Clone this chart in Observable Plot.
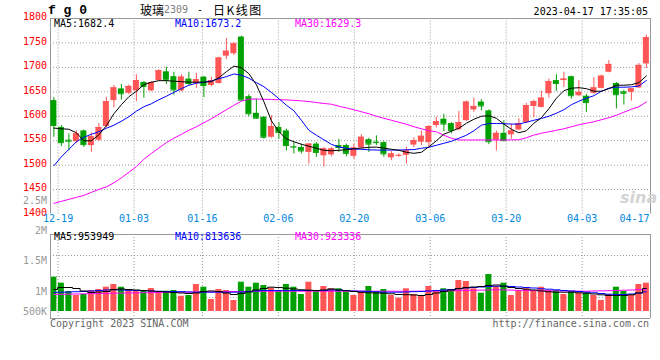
<!DOCTYPE html>
<html><head><meta charset="utf-8">
<script src="https://cdn.jsdelivr.net/npm/d3@7"></script>
<script src="https://cdn.jsdelivr.net/npm/@observablehq/plot@0.6"></script>
<style>
html,body{margin:0;padding:0;background:#fff;}
#chart{position:relative;width:660px;height:360px;overflow:hidden;background:#fff;}
#chart svg{position:absolute;left:0;top:0;}
.lbl{position:absolute;white-space:nowrap;font-family:"DejaVu Sans Mono",monospace;font-size:10px;line-height:10px;}
</style></head>
<body><div id="chart"></div>
<script>
// ---------- data ----------
const dates = ["12-16","12-19","12-20","12-21","12-22","12-23","12-26","12-27","12-28","12-29","12-30",
"01-03","01-04","01-05","01-06","01-09","01-10","01-11","01-12","01-13",
"01-16","01-17","01-18","01-19","01-20","01-30","01-31","02-01","02-02","02-03",
"02-06","02-07","02-08","02-09","02-10","02-13","02-14","02-15","02-16","02-17",
"02-20","02-21","02-22","02-23","02-24","02-27","02-28","03-01","03-02","03-03",
"03-06","03-07","03-08","03-09","03-10","03-13","03-14","03-15","03-16","03-17",
"03-20","03-21","03-22","03-23","03-24","03-27","03-28","03-29","03-30","03-31",
"04-03","04-04","04-06","04-07","04-10","04-11","04-12","04-13","04-14","04-17"];
const openP = [1632,1577,1551,1548,1570,1540,1551,1579,1632,1656, 1647,1652,1669,1652,1673,1691,1681,1652,1676,1667,
 1680,1663,1667,1723,1728,1762,1640,1606,1598,1557, 1577,1570,1538,1536,1526,1543,1519,1521,1540,1540,
 1518,1535,1552,1547,1546,1515,1519,1520,1541,1547, 1546,1581,1594,1585,1573,1591,1613,1629,1611,1551,
 1565,1562,1572,1587,1620,1618,1646,1673,1673,1681, 1642,1641,1647,1657,1690,1667,1650,1649,1658,1707];
const highP = [1638,1581,1564,1570,1572,1566,1585,1639,1663,1665, 1664,1685,1671,1671,1695,1700,1690,1685,1690,1688,
 1681,1680,1721,1759,1751,1764,1644,1635,1599,1601, 1587,1574,1546,1543,1544,1546,1536,1536,1553,1543,
 1543,1562,1555,1560,1548,1528,1523,1537,1556,1570, 1581,1598,1604,1587,1610,1631,1637,1634,1613,1570,
 1591,1584,1595,1626,1633,1651,1676,1685,1690,1682, 1673,1645,1679,1684,1714,1669,1653,1657,1708,1766];
const lowP = [1557,1538,1529,1544,1536,1526,1548,1576,1617,1633, 1644,1630,1637,1650,1672,1665,1643,1650,1662,1657,
 1638,1660,1666,1716,1724,1631,1599,1594,1553,1555, 1553,1529,1523,1523,1502,1516,1496,1517,1526,1517,
 1512,1533,1526,1540,1516,1509,1516,1502,1536,1540, 1537,1576,1568,1564,1570,1589,1608,1611,1542,1529,
 1548,1553,1570,1585,1597,1617,1637,1651,1659,1635, 1640,1608,1645,1656,1689,1615,1623,1631,1657,1698];
const closeP = [1581,1546,1549,1564,1542,1558,1577,1630,1658,1646, 1661,1673,1661,1669,1693,1674,1654,1680,1667,1675,
 1663,1673,1719,1733,1748,1633,1605,1596,1557,1579, 1567,1540,1537,1529,1543,1526,1533,1533,1536,1524,
 1535,1557,1543,1546,1523,1523,1520,1529,1550,1559, 1579,1589,1584,1571,1587,1629,1620,1621,1548,1565,
 1550,1570,1585,1622,1630,1637,1671,1667,1676,1642, 1649,1628,1658,1682,1706,1644,1647,1656,1704,1761];
const ma5 = [1575.8,1574.4,1573.4,1566.2,1549.8,1549.8,1562.1,1580.6,1605.1,1623.6, 1640.0,1651.2,1664.6,1669.7,1672.8,1672.8,1671.7,1670.7,1669.7,1669.7,
 1669.7,1670.7,1678.9,1691.2,1702.5,1699.4,1687.1,1664.6,1629.7,1590.8, 1568.3,1553.9,1547.8,1542.7,1538.6,1534.5,1530.4,1529.3,1530.4,1531.4,
 1533.4,1534.9,1536.5,1536.9,1534.9,1532.4,1530.4,1526.3,1524.2,1526.3, 1537.5,1549.8,1563.5,1569.3,1575.4,1585.7,1593.9,1600.0,1601.0,1595.9,
 1584.0,1573.4,1566.2,1570.3,1585.7,1597.0,1615.4,1636.9,1652.3,1657.4, 1658.4,1656.4,1651.2,1651.2,1656.4,1663.5,1663.5,1664.6,1668.7,1682.4];
const ma10 = [1498.6,1517.0,1532.4,1547.8,1557.0,1563.1,1568.3,1575.4,1581.6,1589.8, 1599.0,1610.3,1619.5,1625.6,1633.8,1641.0,1648.8,1656.4,1663.5,1667.6,
 1669.7,1672.2,1676.9,1681.0,1686.5,1684.0,1677.9,1668.7,1660.5,1648.8, 1635.9,1622.6,1611.3,1591.8,1571.3,1561.1,1551.9,1542.6,1537.1,1534.5,
 1533.0,1532.4,1531.4,1530.8,1530.8,1530.8,1530.8,1531.4,1531.8,1534.5, 1536.5,1540.6,1544.7,1548.8,1555.0,1561.1,1570.3,1581.6,1585.1,1585.1,
 1584.7,1584.0,1584.0,1587.7,1591.8,1595.5,1600.0,1606.2,1613.3,1623.6, 1630.8,1636.9,1642.0,1651.2,1657.4,1659.4,1659.4,1660.1,1661.9,1673.2];
const ma30 = [1421.8,1425.9,1430.0,1434.0,1438.1,1444.3,1450.4,1455.6,1463.8,1474.0, 1485.3,1497.0,1512.0,1524.0,1535.0,1546.0,1555.0,1563.0,1571.3,1578.5,
 1586.7,1594.9,1604.1,1613.3,1622.5,1630.8,1634.9,1635.3,1634.9,1634.2, 1633.8,1633.4,1632.6,1631.4,1630.1,1628.1,1626.2,1624.6,1620.5,1617.0,
 1613.3,1609.2,1605.1,1600.0,1595.9,1591.8,1587.7,1583.6,1578.5,1574.4, 1570.3,1568.3,1561.1,1555.0,1551.5,1551.5,1551.5,1551.5,1551.5,1551.5,
 1551.5,1551.7,1551.9,1556.0,1561.5,1565.2,1568.3,1571.3,1574.4,1578.5, 1582.6,1585.7,1588.8,1592.9,1597.0,1602.1,1608.2,1614.4,1619.5,1629.3];
// volume in thousand lots
const volumeK = [1420,1172,828,662,704,869,911,1006,1118,1006, 911,840,869,952,828,840,869,633,662,1118,
 1006,497,911,869,455,1213,1006,1172,1076,965, 869,1118,1006,704,1213,869,1035,940,940,799,
 662,799,1035,799,911,662,551,940,704,662, 1035,869,940,911,1283,1242,940,758,1532,1035,
 1172,662,869,940,869,1006,869,869,704,828, 758,758,662,455,704,1006,828,662,1118,1172];
const volMa5K = [910.8,993.6,993.6,952.2,848.7,786.6,807.3,828,910.8,931.5, 910.8,890.1,869.4,848.7,828,807.3,786.6,765.9,745.2,765.9,
 828,848.7,828,765.9,703.8,745.2,807.3,890.1,952.2,1006, 993.6,964.6,931.5,898.4,881.8,869.4,890.1,931.5,890.1,857,
 828,794.9,774.2,765.9,757.6,732.8,703.8,695.5,683.1,662.4, 703.8,765.9,828,890.1,952.2,993.6,1014.3,1035,1076.4,1097.1,
 1047.4,993.6,952.2,923.2,890.1,848.7,815.6,799,799,799, 774.2,757.6,724.5,691.4,662.4,662.4,662.4,691.4,765.9,953.9];
const volMa10K = [786.6,799,807.3,819.7,828,848.7,869.4,890.1,898.4,890.1, 877.7,869.4,861.1,848.7,836.3,828,828,819.7,807.3,799,
 799,799,799,799,799,807.3,828,848.7,869.4,869.4, 869.4,869.4,869.4,869.4,869.4,869.4,869.4,890.1,890.1,869.4,
 848.7,840.4,828,815.6,799,799,799,807.3,819.7,828, 848.7,869.4,890.1,910.8,939.8,972.9,993.6,1014.3,1035,1047.4,
 1047.4,1035,1014.3,993.6,972.9,939.8,923.2,898.4,869.4,848.7, 828,799,774.2,745.2,716.2,703.8,703.8,724.5,765.9,813.6];
const volMa30K = [703.8,710,717,724.5,731,738,745.2,751,757.6,763, 768,774.2,778,782,786.6,790,795,799,803,808,
 812,815.6,820,824,828,830,832,834,836,838, 840.4,840.4,840.4,840.4,840.4,840.4,840.4,840.4,840.4,840.4,
 840.4,840.4,840.4,840.4,840.4,840.4,838,836,840,843, 846,848.7,852,858,864,869.4,877,885,892,898.4,
 892,885,877,869.4,865,860,856,852,848.7,846, 843,840.4,848.7,855,862,869.4,880,890,905,923.3];
const xTickLabels = ["12-19","01-03","01-16","02-06","02-20","03-06","03-20","04-03","04-17"];
const priceTicks = [1400,1450,1500,1550,1600,1650,1700,1750,1800];
const volTickValues = [2.5e6,2e6,1.5e6,1e6,5e5];
const volTickLabels = ["2.5M","2M","1.5M","1M","500K"];

// ---------- styling ----------
const RED = "#ff5555", GREEN = "#00a000", GRID = "#999", FRAME = "#999";
const W = 660, H = 360;
const candles = dates.map((d, i) => ({
  i, date: d, open: openP[i], high: highP[i], low: lowP[i], close: closeP[i],
  ma5: ma5[i], ma10: ma10[i], ma30: ma30[i],
  vol: volumeK[i] * 1000, vma5: volMa5K[i] * 1000, vma10: volMa10K[i] * 1000, vma30: volMa30K[i] * 1000
}));
const col = d => d.close >= d.open ? RED : GREEN;
const xDomain = [-0.45, dates.length - 0.45];
// the date axis splits the frame into (n-1) day slots
const tickPos = idx => xDomain[0] + idx * (xDomain[1] - xDomain[0]) / (dates.length - 1);
const ticks = xTickLabels.map(l => ({label: l, x: tickPos(dates.indexOf(l))}));
const half = 0.4;
const base = {width: W, height: H, marginLeft: 50, marginRight: 10,
  style: {background: "transparent", fontFamily: "'DejaVu Sans Mono', monospace", fontSize: "10px"}};

const pricePlot = Plot.plot({
  ...base, marginTop: 18, marginBottom: H - 213.5,
  x: {domain: xDomain, axis: null}, y: {domain: [1400, 1800], axis: null},
  marks: [
    Plot.ruleY(priceTicks.slice(1, -1), {stroke: GRID, strokeDasharray: "1,2"}),
    Plot.ruleX(ticks.slice(0, -1), {x: "x", y1: 1400, y2: 1800, stroke: GRID, strokeDasharray: "1,2"}),
    Plot.ruleY([1800], {stroke: FRAME}),
    Plot.ruleX(xDomain, {y1: 1400, y2: 1800, stroke: FRAME}),
    Plot.ruleX(candles, {x: "i", y1: "low", y2: "high", stroke: col}),
    Plot.rect(candles, {x1: d => d.i - half, x2: d => d.i + half, y1: "open", y2: "close", fill: col}),
    Plot.ruleY(candles, {x1: d => d.i - half, x2: d => d.i + half, y: "close", stroke: col}),
    Plot.line(candles, {x: "i", y: "ma30", stroke: "#ff00ff", strokeWidth: 1}),
    Plot.line(candles, {x: "i", y: "ma10", stroke: "#0000ff", strokeWidth: 1}),
    Plot.line(candles, {x: "i", y: "ma5", stroke: "#000", strokeWidth: 1}),
    Plot.text(priceTicks, {y: d => d, text: d => String(d), frameAnchor: "left", dx: -3.5, dy: -1.5, textAnchor: "end", fill: "#f00"}),
    Plot.text(ticks.slice(0, -1), {x: "x", text: "label", frameAnchor: "bottom", dy: 7.5, fill: "#0088dd"}),
    Plot.text(ticks.slice(-1), {x: "x", text: "label", frameAnchor: "bottom", dy: 7.5, dx: -1, textAnchor: "end", fill: "#0088dd"})
  ]
});

const volDomain = [-0.29e6, 3.188e6];
const volGrid = [1, 2, 3].map(k => volDomain[0] + (volDomain[1] - volDomain[0]) * k / 4);
const volPlot = Plot.plot({
  ...base, marginTop: 234, marginBottom: H - 318,
  x: {domain: xDomain, axis: null}, y: {domain: volDomain, axis: null},
  marks: [
    Plot.ruleY(volGrid, {stroke: GRID, strokeDasharray: "1,2"}),
    Plot.ruleX(ticks.slice(0, -1), {x: "x", stroke: GRID, strokeDasharray: "1,2"}),
    Plot.rect(candles, {x1: d => d.i - half, x2: d => d.i + half, y1: 0, y2: "vol", fill: col}),
    Plot.line(candles, {x: "i", y: "vma30", curve: "step", stroke: "#ff00ff", strokeWidth: 1}),
    Plot.line(candles, {x: "i", y: "vma10", curve: "step", stroke: "#0000ff", strokeWidth: 1}),
    Plot.line(candles, {x: "i", y: "vma5", curve: "step", stroke: "#000", strokeWidth: 1}),
    Plot.ruleY(volDomain, {stroke: FRAME}),
    Plot.ruleX(xDomain, {stroke: FRAME})
  ]
});

// volume axis labels (Sina places them on their own label scale; the lowest is pinned to the bar baseline)
const volAxis = Plot.plot({
  ...base, marginTop: 0, marginBottom: 0,
  y: {domain: [6.67e5, 2.5e6], range: [311, 200], clamp: true, axis: null},
  marks: [
    Plot.text(volTickValues, {y: d => d, text: (d, i) => volTickLabels[i], frameAnchor: "left", dx: -3.5, textAnchor: "end", fill: "#999"})
  ]
});

const chart = document.getElementById("chart");
chart.append(pricePlot, volPlot, volAxis);

function label(html, opts) {
  const el = document.createElement("div");
  el.className = "lbl";
  el.innerHTML = html;
  Object.assign(el.style, opts);
  chart.append(el);
  return el;
}
const cjk = {fontFamily: "'Noto Sans CJK SC', sans-serif", fontSize: "12px", lineHeight: "14px", color: "#000", top: "3px"};
label("f g 0", {left: "48px", top: "4px", fontFamily: "'Liberation Mono', monospace", fontWeight: "bold", fontSize: "13px", lineHeight: "13px", color: "#000"});
label("玻璃", {...cjk, left: "140px"});
label("2309", {left: "164px", top: "5px", color: "#808080"});
label("-", {left: "197px", top: "5px", color: "#000"});
label("日K线图", {...cjk, left: "213px", letterSpacing: "1.5px"});
label("2023-04-17 17:35:05", {right: "12px", top: "7px", color: "#000"});
label("MA5:1682.4", {left: "54px", top: "19px", color: "#000"});
label("MA10:1673.2", {left: "175px", top: "19px", color: "#0000ff"});
label("MA30:1629.3", {left: "295px", top: "19px", color: "#ff00ff"});
label("MA5:953949", {left: "54px", top: "232px", color: "#000"});
label("MA10:813636", {left: "175px", top: "232px", color: "#0000ff"});
label("MA30:923336", {left: "295px", top: "232px", color: "#ff00ff"});
label("Copyright 2023 SINA.COM", {left: "50px", top: "319px", color: "#666"});
label("http://finance.sina.com.cn", {right: "11px", top: "319px", color: "#666"});
label("sina", {left: "620px", top: "190px", fontFamily: "'DejaVu Sans', sans-serif", fontStyle: "italic", fontWeight: "bold", fontSize: "16px", lineHeight: "16px", color: "#d4d4d4"});
</script></body></html>
